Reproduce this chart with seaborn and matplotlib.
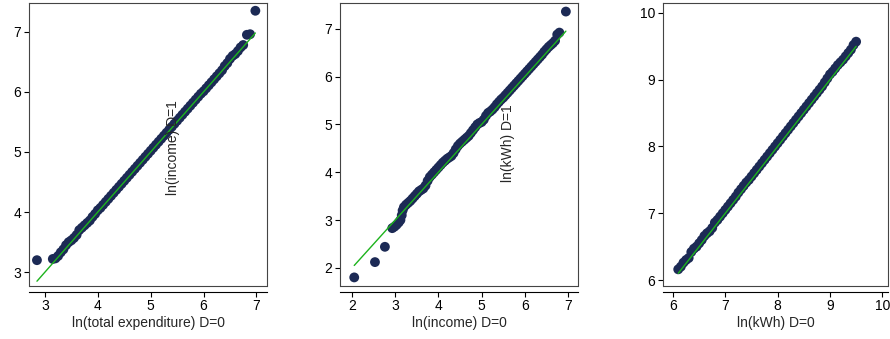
import matplotlib
matplotlib.use('Agg')
import matplotlib.pyplot as plt
import seaborn as sns

# quantile pairs
x1 = [2.85, 3.15, 3.2, 3.25, 3.3, 3.35, 3.4, 3.45, 3.5, 3.55, 3.6, 3.65, 3.7, 3.75, 3.8, 3.85,
      3.9, 3.95, 4.0, 4.05, 4.1, 4.15, 4.2, 4.25, 4.3, 4.35, 4.4, 4.45, 4.5, 4.55, 4.6, 4.65,
      4.7, 4.75, 4.8, 4.85, 4.9, 4.95, 5.0, 5.05, 5.1, 5.15, 5.2, 5.25, 5.3, 5.35, 5.4, 5.45,
      5.5, 5.55, 5.6, 5.65, 5.7, 5.75, 5.8, 5.85, 5.9, 5.95, 6.0, 6.05, 6.1, 6.15, 6.2, 6.25,
      6.3, 6.35, 6.4, 6.45, 6.5, 6.55, 6.6, 6.65, 6.7, 6.75, 6.82, 6.88, 6.98]
y1 = [3.20, 3.22, 3.23, 3.27, 3.33, 3.38, 3.45, 3.5, 3.53, 3.57, 3.62, 3.7, 3.74, 3.78, 3.82, 3.86,
      3.92, 3.97, 4.03, 4.07, 4.12, 4.17, 4.22, 4.27, 4.32, 4.37, 4.42, 4.47, 4.52, 4.57, 4.62, 4.67,
      4.72, 4.77, 4.82, 4.87, 4.92, 4.97, 5.02, 5.07, 5.12, 5.17, 5.22, 5.27, 5.32, 5.37, 5.42, 5.47,
      5.52, 5.57, 5.62, 5.67, 5.72, 5.77, 5.82, 5.87, 5.92, 5.97, 6.01, 6.06, 6.11, 6.16, 6.21, 6.26,
      6.31, 6.36, 6.43, 6.48, 6.55, 6.6, 6.63, 6.68, 6.74, 6.78, 6.95, 6.96, 7.35]

x2 = [2.05, 2.53, 2.76, 2.93, 2.98, 3.03, 3.08, 3.12, 3.15, 3.17, 3.2, 3.25, 3.3, 3.35, 3.4, 3.45,
      3.5, 3.55, 3.6, 3.65, 3.7, 3.75, 3.8, 3.85, 3.9, 3.95, 4.0, 4.05, 4.1, 4.15, 4.2, 4.25,
      4.3, 4.35, 4.4, 4.45, 4.5, 4.55, 4.6, 4.65, 4.7, 4.75, 4.8, 4.85, 4.9, 4.95, 5.0, 5.05,
      5.1, 5.15, 5.2, 5.25, 5.3, 5.35, 5.4, 5.45, 5.5, 5.55, 5.6, 5.65, 5.7, 5.75, 5.8, 5.85,
      5.9, 5.95, 6.0, 6.05, 6.1, 6.15, 6.2, 6.25, 6.3, 6.35, 6.4, 6.45, 6.5, 6.55, 6.6, 6.65,
      6.7, 6.75, 6.8, 6.95]
y2 = [1.80, 2.12, 2.44, 2.83, 2.86, 2.9, 2.95, 3.0, 3.1, 3.2, 3.27, 3.32, 3.36, 3.4, 3.45, 3.5,
      3.55, 3.6, 3.63, 3.66, 3.72, 3.82, 3.9, 3.95, 4.0, 4.05, 4.1, 4.15, 4.2, 4.24, 4.28, 4.31,
      4.34, 4.4, 4.48, 4.55, 4.6, 4.64, 4.68, 4.72, 4.76, 4.82, 4.88, 4.94, 5.0, 5.03, 5.05, 5.1,
      5.18, 5.24, 5.27, 5.31, 5.36, 5.42, 5.47, 5.52, 5.56, 5.61, 5.66, 5.71, 5.76, 5.81, 5.86, 5.91,
      5.96, 6.01, 6.06, 6.11, 6.16, 6.21, 6.26, 6.31, 6.36, 6.41, 6.46, 6.52, 6.57, 6.62, 6.66, 6.7,
      6.75, 6.88, 6.92, 7.36]

x3 = [6.1, 6.15, 6.2, 6.25, 6.3, 6.35, 6.4, 6.45, 6.5, 6.55, 6.6, 6.65, 6.7, 6.75, 6.8, 6.85,
      6.9, 6.95, 7.0, 7.05, 7.1, 7.15, 7.2, 7.25, 7.3, 7.35, 7.4, 7.45, 7.5, 7.55, 7.6, 7.65,
      7.7, 7.75, 7.8, 7.85, 7.9, 7.95, 8.0, 8.05, 8.1, 8.15, 8.2, 8.25, 8.3, 8.35, 8.4, 8.45,
      8.5, 8.55, 8.6, 8.65, 8.7, 8.75, 8.8, 8.85, 8.9, 8.95, 9.0, 9.05, 9.1, 9.15, 9.2, 9.25,
      9.3, 9.35, 9.4, 9.45, 9.5]
y3 = [6.16, 6.2, 6.26, 6.3, 6.33, 6.42, 6.47, 6.5, 6.55, 6.6, 6.66, 6.7, 6.73, 6.78, 6.86, 6.9,
      6.95, 7.0, 7.05, 7.1, 7.15, 7.2, 7.25, 7.31, 7.36, 7.41, 7.46, 7.5, 7.55, 7.6, 7.65, 7.7,
      7.75, 7.8, 7.85, 7.9, 7.95, 8.0, 8.05, 8.1, 8.15, 8.2, 8.25, 8.3, 8.35, 8.4, 8.45, 8.5,
      8.55, 8.6, 8.65, 8.7, 8.75, 8.8, 8.85, 8.9, 8.96, 9.02, 9.08, 9.12, 9.17, 9.22, 9.26, 9.3,
      9.35, 9.4, 9.45, 9.52, 9.57]

xlabels = ['ln(total expenditure) D=0', 'ln(income) D=0', 'ln(kWh) D=0']
ylabels = ['ln(income) D=1', 'ln(kWh) D=1', '']
xticks = [[3, 4, 5, 6, 7], [2, 3, 4, 5, 6, 7], [6, 7, 8, 9, 10]]
yticks = [[3, 4, 5, 6, 7], [2, 3, 4, 5, 6, 7], [6, 7, 8, 9, 10]]

sns.set_style('white')
plt.rcParams['font.family'] = ['Liberation Sans', 'DejaVu Sans']

fig = plt.figure(figsize=(8.9, 3.39), dpi=100)
positions = [[0.0326, 0.1563, 0.2674, 0.835],
             [0.382, 0.1563, 0.2674, 0.835],
             [0.745, 0.1563, 0.2528, 0.835]]
limits = [((2.70, 7.20), (2.77, 7.48)),
          ((1.72, 7.23), (1.62, 7.54)),
          ((5.81, 10.11), (5.91, 10.15))]
text_pos = [(0.605, 0.488), (0.706, 0.505), None]

data = [(x1, y1), (x2, y2), (x3, y3)]
for i, (xs, ys) in enumerate(data):
    ax = fig.add_axes(positions[i])
    sns.scatterplot(x=xs, y=ys, ax=ax, s=50, color='#1c2a55', edgecolor='none', linewidth=0)
    # 45 degree reference line over the range of x
    lo, hi = min(xs), max(xs)
    sns.lineplot(x=[lo, hi], y=[lo, hi], ax=ax, color='#1db31d', lw=1)
    ax.set_xlim(*limits[i][0])
    ax.set_ylim(*limits[i][1])
    ax.set_xticks(xticks[i])
    ax.set_yticks(yticks[i])
    ax.set_xlabel(xlabels[i], fontsize=10, labelpad=2)
    ax.set_ylabel('')
    if text_pos[i] is not None:
        ax.text(text_pos[i][0], text_pos[i][1], ylabels[i], rotation=90, transform=ax.transAxes,
                ha='center', va='center', fontsize=10)
    for s in ax.spines.values():
        s.set_color('#444444')
        s.set_linewidth(0.8)
    ax.spines['bottom'].set_position(('outward', 4))
    ax.spines['bottom'].set_color('black')
    ax.plot([0, 1], [0, 0], transform=ax.transAxes, color='#444444', lw=0.8, clip_on=False)
    ax.tick_params(axis='both', which='both', bottom=True, left=True, direction='out',
                   length=3.5, width=0.8, labelsize=10, pad=2, colors='black')

fig.savefig('out.png', dpi=100)
